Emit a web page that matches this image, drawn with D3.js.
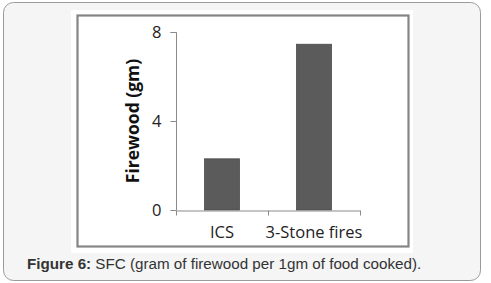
<!DOCTYPE html>
<html>
<head>
<meta charset="utf-8">
<script src="https://cdn.jsdelivr.net/npm/d3@7"></script>
<style>
  html, body { margin: 0; padding: 0; background: #fff; }
  svg { display: block; }
</style>
</head>
<body>
<script>
const categories = ["ICS", "3-Stone fires"];
const firewood = [2.3, 7.45];
const yTicks = [0, 4, 8];

const width = 491;
const height = 283;

const svg = d3.select("body")
    .append("svg")
    .attr("width", width)
    .attr("height", height);

// outer rounded panel
svg.append("rect")
    .attr("x", 3.5)
    .attr("y", 2.5)
    .attr("width", 477)
    .attr("height", 278)
    .attr("rx", 10)
    .attr("fill", "#f5f5f5")
    .attr("stroke", "#9a9a9a");

// white picture area
svg.append("rect")
    .attr("x", 71)
    .attr("y", 10)
    .attr("width", 342)
    .attr("height", 243)
    .attr("fill", "#fff");

// chart frame
svg.append("rect")
    .attr("x", 77.5)
    .attr("y", 15.5)
    .attr("width", 331)
    .attr("height", 231)
    .attr("fill", "none")
    .attr("stroke", "#858585")
    .attr("stroke-width", 2.2);

const plot = {left: 176, right: 360, top: 32, bottom: 210};

const x = d3.scaleBand()
    .domain(categories)
    .range([plot.left, plot.right])
    .paddingInner(0.62)
    .paddingOuter(0.31);

const y = d3.scaleLinear()
    .domain([0, 8])
    .range([plot.bottom, plot.top]);

const g = svg.append("g");

g.selectAll("rect.bar")
    .data(firewood)
    .enter()
    .append("rect")
    .attr("class", "bar")
    .attr("x", (d, i) => x(categories[i]))
    .attr("y", d => y(d))
    .attr("width", x.bandwidth())
    .attr("height", d => y(0) - y(d))
    .attr("fill", "#5b5b5b")
    .attr("stroke", "#4a4a4a")
    .attr("stroke-width", 0.8);

const yAxis = g.append("g")
    .attr("transform", `translate(${plot.left + 0.5},0)`)
    .call(d3.axisLeft(y).tickValues(yTicks).tickSize(6).tickPadding(9).tickFormat(d3.format("d")));

// x axis with ticks at category boundaries
const xAxis = g.append("g")
    .attr("transform", `translate(0,${plot.bottom + 0.5})`)
    .call(d3.axisBottom(x).tickSize(0).tickPadding(16));

xAxis.selectAll(".boundary")
    .data([plot.left, (plot.left + plot.right) / 2, plot.right])
    .enter()
    .append("line")
    .attr("class", "boundary")
    .attr("x1", d => Math.round(d) + 0.5)
    .attr("x2", d => Math.round(d) + 0.5)
    .attr("y1", 0)
    .attr("y2", 5);

[yAxis, xAxis].forEach(a => {
    a.select(".domain").attr("stroke", "#8a8a8a");
    a.selectAll("line").attr("stroke", "#8a8a8a");
    a.selectAll("text")
        .attr("fill", "#222")
        .style("font-family", "'Open Sans', 'DejaVu Sans', sans-serif")
        .style("font-size", "16.5px");
});
yAxis.select(".domain").attr("d", `M-6,${plot.top + 0.5}H0V${plot.bottom}`);

svg.append("text")
    .attr("transform", `translate(139,${(plot.top + plot.bottom) / 2}) rotate(-90)`)
    .attr("text-anchor", "middle")
    .style("font-family", "'Open Sans', 'DejaVu Sans', sans-serif")
    .style("font-size", "17.5px")
    .style("font-weight", "bold")
    .attr("fill", "#111")
    .text("Firewood (gm)");

const caption = svg.append("text")
    .attr("x", 27)
    .attr("y", 269)
    .style("font-family", "'Liberation Sans', Arial, sans-serif")
    .style("font-size", "15.2px")
    .attr("fill", "#333");
caption.append("tspan").style("font-weight", "bold").text("Figure 6:");
caption.append("tspan").text(" SFC (gram of firewood per 1gm of food cooked).");
</script>
</body>
</html>
